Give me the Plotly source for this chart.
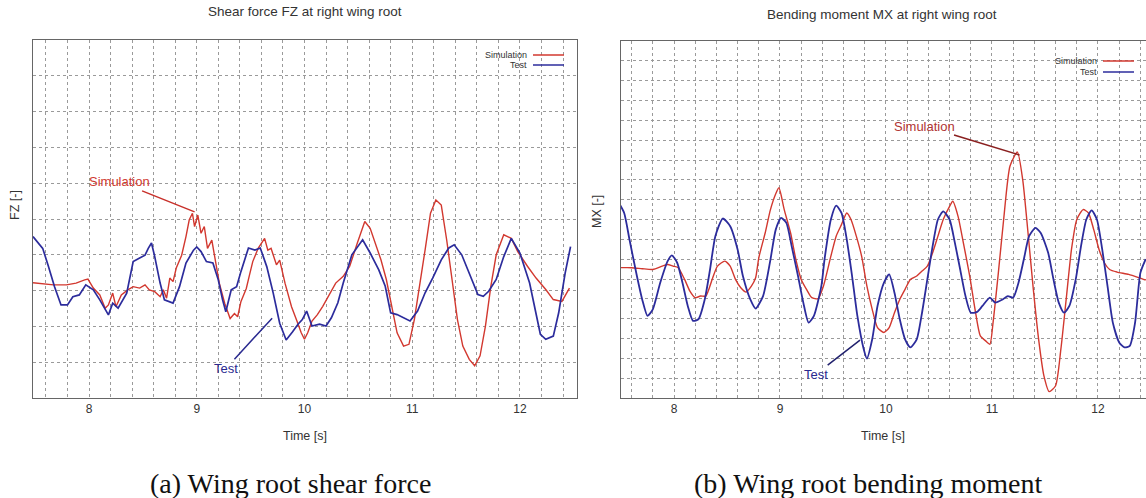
import plotly.graph_objects as go

W, H = 1146, 498

# ---------------- data ----------------
fz_test_t = [7.48,7.57,7.62,7.68,7.74,7.80,7.85,7.91,7.97,8.04,8.10,8.18,8.22,8.27,8.35,8.39,8.41,8.47,8.52,8.55,
             8.58,8.61,8.66,8.70,8.78,8.84,8.90,8.97,9.00,9.04,9.09,9.15,9.20,9.24,9.27,9.32,9.37,9.41,9.48,9.54,
             9.59,9.65,9.71,9.77,9.83,9.89,9.94,9.98,10.02,10.07,10.14,10.20,10.25,10.31,10.36,10.44,10.54,10.61,10.69,10.75,
             10.80,10.86,10.92,10.98,11.05,11.12,11.19,11.27,11.34,11.39,11.46,11.54,11.61,11.66,11.71,11.78,11.85,11.92,12.00,12.09,
             12.14,12.19,12.24,12.31,12.36,12.42,12.47]
fz_test_v = [4.51,4.18,3.71,3.11,2.60,2.60,2.83,2.88,3.16,3.02,2.74,2.32,2.65,2.51,2.93,3.49,3.81,3.91,3.99,4.18,
             4.33,3.95,3.21,2.74,2.65,3.11,3.77,4.13,4.22,4.09,3.81,3.77,3.30,2.74,2.41,3.02,3.11,3.53,4.19,4.13,
             4.19,3.67,2.93,2.09,1.62,1.85,2.06,2.19,2.43,2.01,2.06,2.01,2.24,2.66,3.21,4.00,4.42,4.05,3.58,3.12,
             2.38,2.33,2.24,2.15,2.43,2.94,3.35,3.86,4.19,4.28,4.00,3.40,2.89,2.84,2.98,3.31,3.95,4.46,4.05,3.21,
             2.47,1.78,1.64,1.73,2.38,3.49,4.23]

fz_sim_t = [7.48,7.67,7.79,7.88,7.96,7.99,8.04,8.10,8.15,8.18,8.22,8.25,8.30,8.36,8.41,8.47,8.52,8.56,8.61,8.66,
            8.69,8.72,8.75,8.78,8.81,8.86,8.90,8.93,8.96,8.98,9.01,9.04,9.07,9.10,9.14,9.17,9.21,9.26,9.31,9.35,
            9.38,9.41,9.46,9.49,9.52,9.57,9.63,9.66,9.69,9.74,9.77,9.82,9.88,9.93,9.97,10.00,10.03,10.07,10.12,10.17,
            10.22,10.29,10.36,10.42,10.49,10.56,10.61,10.66,10.71,10.76,10.81,10.86,10.92,10.97,11.02,11.07,11.12,11.17,11.22,11.27,
            11.32,11.37,11.42,11.47,11.53,11.58,11.63,11.68,11.73,11.78,11.85,11.92,11.98,12.07,12.15,12.24,12.31,12.39,12.46]
fz_sim_v = [3.22,3.16,3.16,3.21,3.30,3.32,3.07,2.88,2.51,2.60,2.93,2.55,2.88,3.02,3.11,3.07,3.16,3.02,2.97,2.83,
            3.02,2.79,3.35,3.25,3.63,3.99,4.51,4.97,5.16,4.79,5.11,4.60,4.79,4.18,4.41,3.90,3.20,2.64,2.22,2.36,
            2.27,2.69,3.06,3.44,3.81,4.18,4.46,4.13,4.18,3.72,3.85,3.20,2.55,2.15,1.82,1.64,1.82,2.15,2.33,2.56,
            2.84,3.21,3.40,3.68,4.32,4.93,4.74,4.32,3.86,3.31,2.56,1.82,1.45,1.50,2.19,3.12,4.14,5.16,5.53,5.39,
            4.42,3.31,2.19,1.45,1.08,0.90,1.18,2.01,3.12,4.00,4.56,4.46,4.09,3.68,3.35,3.03,2.75,2.70,3.07]

mx_test_t = [7.48,7.53,7.58,7.65,7.70,7.75,7.80,7.87,7.94,7.98,8.03,8.08,8.13,8.18,8.23,8.29,8.34,8.39,8.46,8.53,
             8.60,8.65,8.72,8.77,8.84,8.91,8.96,9.01,9.06,9.11,9.17,9.22,9.27,9.32,9.39,9.42,9.48,9.53,9.58,9.63,
             9.68,9.73,9.79,9.82,9.87,9.92,9.98,10.03,10.08,10.13,10.18,10.23,10.29,10.34,10.39,10.44,10.49,10.54,10.60,10.65,
             10.70,10.75,10.80,10.86,10.91,10.98,11.03,11.10,11.15,11.20,11.25,11.30,11.35,11.41,11.46,11.53,11.58,11.63,11.68,11.73,
             11.79,11.84,11.89,11.94,11.99,12.04,12.09,12.14,12.20,12.25,12.30,12.35,12.40,12.45]
mx_test_v = [9.83,9.33,7.99,6.15,4.97,4.14,4.47,5.81,6.90,7.19,6.82,5.81,4.64,3.89,3.97,4.97,6.48,8.16,9.05,8.66,
             7.49,6.15,4.97,4.51,5.14,6.98,8.49,9.08,8.83,7.66,6.15,4.81,3.80,4.14,5.64,6.98,9.00,9.70,9.33,7.99,
             6.15,4.14,2.46,1.99,2.96,4.64,5.81,6.23,5.31,3.97,2.96,2.55,2.96,4.30,5.98,7.66,9.00,9.41,9.00,7.82,
             6.48,5.14,4.30,4.34,4.64,5.06,4.81,4.97,5.14,5.06,5.81,6.98,8.16,8.58,8.32,7.32,5.98,4.81,4.30,4.64,
             5.98,7.66,9.00,9.46,9.00,7.49,5.64,3.80,2.80,2.55,2.63,3.80,6.31,7.00]

mx_sim_t = [7.48,7.60,7.70,7.80,7.89,7.94,7.99,8.04,8.10,8.15,8.20,8.25,8.30,8.36,8.41,8.48,8.53,8.58,8.63,8.68,
            8.73,8.77,8.80,8.86,8.91,8.96,8.99,9.04,9.10,9.15,9.20,9.25,9.30,9.36,9.41,9.48,9.53,9.58,9.63,9.67,
            9.72,9.77,9.82,9.87,9.92,9.98,10.03,10.08,10.13,10.18,10.23,10.29,10.34,10.39,10.44,10.49,10.54,10.60,10.63,10.68,
            10.73,10.79,10.84,10.89,10.94,10.98,11.01,11.06,11.11,11.17,11.24,11.29,11.34,11.39,11.44,11.49,11.54,11.60,11.65,11.70,
            11.75,11.80,11.86,11.91,11.96,12.01,12.06,12.11,12.18,12.29,12.39,12.45]
mx_sim_v = [6.57,6.57,6.52,6.48,6.65,6.73,6.65,6.57,5.98,5.39,5.06,5.14,5.14,5.98,6.65,6.90,6.65,5.98,5.56,5.34,
            5.64,6.06,7.07,8.32,9.50,10.3,10.6,9.50,8.32,6.98,5.98,5.48,5.06,5.01,5.64,7.15,8.16,8.74,9.33,9.00,
            8.16,7.15,5.64,4.47,3.55,3.30,3.55,4.30,4.97,5.48,5.98,6.15,6.40,6.65,7.32,8.16,9.00,9.66,9.92,9.16,
            7.82,6.15,4.47,3.13,2.88,2.71,3.80,6.31,9.00,11.7,12.4,11.0,8.32,5.48,2.96,1.12,0.32,0.62,2.46,4.97,
            7.49,9.00,9.50,9.33,8.49,7.49,6.82,6.48,6.35,6.23,6.06,5.95]

x_ticks = [8, 9, 10, 11, 12]
x_tick_text = ["8", "9", "10", "11", "12"]
series_names = ["Simulation", "Test"]

# ---------------- styling ----------------
RED = "#d2382f"
BLUE = "#2c2c9c"
GRID = "#9a9a9a"
FRAME = "#666666"
SANS = "Liberation Sans, Arial, sans-serif"
SERIF = "Liberation Serif, Times New Roman, serif"


def px(x):
    return x / W


def py(y):
    return 1 - y / H


fig = go.Figure()
fig.add_trace(go.Scatter(x=fz_sim_t, y=fz_sim_v, xaxis="x", yaxis="y", mode="lines",
                         line=dict(color=RED, width=1.4), showlegend=False, name=series_names[0]))
fig.add_trace(go.Scatter(x=fz_test_t, y=fz_test_v, xaxis="x", yaxis="y", mode="lines",
                         line=dict(color=BLUE, width=1.7), showlegend=False, name=series_names[1]))
fig.add_trace(go.Scatter(x=mx_sim_t, y=mx_sim_v, xaxis="x2", yaxis="y2", mode="lines",
                         line=dict(color=RED, width=1.4, shape="spline", smoothing=0.6),
                         showlegend=False, name=series_names[0]))
fig.add_trace(go.Scatter(x=mx_test_t, y=mx_test_v, xaxis="x2", yaxis="y2", mode="lines",
                         line=dict(color=BLUE, width=1.8, shape="spline", smoothing=0.6),
                         showlegend=False, name=series_names[1]))

common_x = dict(tickvals=x_ticks, ticktext=x_tick_text, showgrid=True, gridcolor=GRID, griddash="dot",
                gridwidth=1, zeroline=False, showline=True, linecolor=FRAME, linewidth=1, ticks="",
                tickfont=dict(family=SANS, size=12, color="#333"),
                minor=dict(dtick=0.2, tick0=0, showgrid=True, gridcolor=GRID, griddash="dot", gridwidth=1))
common_y = dict(showgrid=True, gridcolor=GRID, griddash="dot", gridwidth=1, zeroline=False,
                showline=True, linecolor=FRAME, linewidth=1, ticks="", showticklabels=False, dtick=1)

fig.update_layout(
    width=W, height=H, margin=dict(l=0, r=0, t=0, b=0),
    paper_bgcolor="white", plot_bgcolor="white", showlegend=False,
    xaxis=dict(domain=[px(33), px(577)], range=[7.48, 12.53], anchor="y", mirror=True, **common_x),
    yaxis=dict(domain=[py(398), py(40)], range=[0, 10], anchor="x", mirror=True, **common_y),
    xaxis2=dict(domain=[px(621), 1.0], range=[7.5, 12.453], anchor="y2", mirror=True, **common_x),
    yaxis2=dict(domain=[py(398), py(41)], range=[0, 18], anchor="x2", mirror=False, **common_y),
)

ann = []


def label(text, x, y, size, family=SANS, color="#333", angle=0, xanchor="center"):
    ann.append(dict(text=text, x=px(x), y=py(y), xref="paper", yref="paper", showarrow=False,
                    xanchor=xanchor, yanchor="middle", textangle=angle,
                    font=dict(family=family, size=size, color=color)))


# titles
label("Shear force FZ at right wing root", 305, 12, 13.5)
label("Bending moment MX at right wing root", 882, 14, 13.5)
# axis titles
label("Time [s]", 305, 436, 12.5)
label("Time [s]", 883, 436, 12.5)
label("FZ [-]", 15, 205, 12.5, angle=-90)
label("MX [-]", 597, 212, 12.5, angle=-90)
# captions
label("(a) Wing root shear force", 290, 483, 28, family=SERIF, color="#111")
label("(b) Wing root bending moment", 868, 483, 28, family=SERIF, color="#111")

# callouts
ann.append(dict(text="Simulation", x=8.98, y=5.2, xref="x", yref="y", ax=-75, ay=-30, showarrow=True,
                arrowhead=0, arrowwidth=1.5, arrowcolor="#c8302a", font=dict(family=SANS, size=13, color="#d03a30")))
ann.append(dict(text="Test", x=9.70, y=2.23, xref="x", yref="y", ax=-46, ay=50, showarrow=True,
                arrowhead=0, arrowwidth=1.5, arrowcolor="#2a2a90", font=dict(family=SANS, size=13, color="#2a2a90")))
ann.append(dict(text="Simulation", x=11.26, y=12.25, xref="x2", yref="y2", ax=-95, ay=-29, showarrow=True,
                arrowhead=0, arrowwidth=1.5, arrowcolor="#8a2020", font=dict(family=SANS, size=13, color="#b03434")))
ann.append(dict(text="Test", x=9.755, y=2.92, xref="x2", yref="y2", ax=-44, ay=34, showarrow=True,
                arrowhead=0, arrowwidth=1.5, arrowcolor="#22226e", font=dict(family=SANS, size=13, color="#2a2a90")))

shapes = []
# legends (text left of line, as in the reference)
legends = [
    dict(box=(466, 41, 576, 77), text_right=529, line=(533, 564), rows=(55, 65)),
    dict(box=(1043, 42, 1146, 80), text_right=1099, line=(1103, 1134), rows=(61, 72)),
]
for lg in legends:
    x0, y0, x1, y1 = lg["box"]
    shapes.append(dict(type="rect", xref="paper", yref="paper", x0=px(x0), x1=px(x1), y0=py(y1), y1=py(y0),
                       fillcolor="white", line=dict(width=0), layer="between"))
    for name, col, yy in zip(series_names, (RED, BLUE), lg["rows"]):
        label(name, lg["text_right"], yy, 9, xanchor="right")
        shapes.append(dict(type="line", xref="paper", yref="paper", x0=px(lg["line"][0]), x1=px(lg["line"][1]),
                           y0=py(yy), y1=py(yy), line=dict(color=col, width=1.5)))

fig.update_layout(annotations=ann, shapes=shapes)
fig.write_html("out.html")
